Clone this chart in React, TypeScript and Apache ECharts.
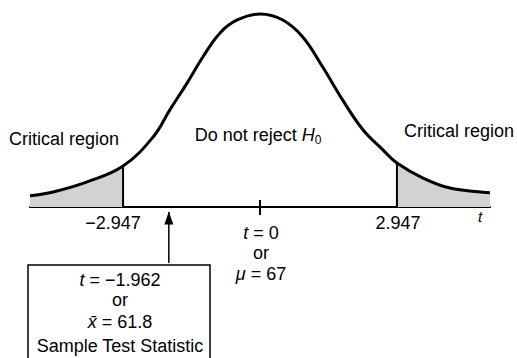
import React, { useEffect, useRef } from 'react';
import * as echarts from 'echarts';

// Curve of the test statistic's distribution (t on x, relative density on y)
const tValues = [-4.95, -4.45, -3.72, -2.947, -2.3, -1.94, -1.57, -1.23, -0.86, -0.49, 0, 0.49, 0.92, 1.35, 1.78, 2.22, 2.65, 2.947, 3.51, 4.09, 4.8, 4.95];
const density = [0.058, 0.078, 0.13, 0.212, 0.363, 0.503, 0.642, 0.777, 0.902, 0.969, 1.0, 0.969, 0.881, 0.725, 0.554, 0.399, 0.295, 0.228, 0.15, 0.098, 0.076, 0.074];

const criticalT = 2.947;
const testT = -1.962;
const testMean = 61.8;
const hypothesisMean = 67;
const criticalLabels = ['\u22122.947', '2.947'];

const FONT = '"Liberation Sans", Arial, Helvetica, sans-serif';
const SHADE = '#d2d2d2';

export default function App() {
  const ref = useRef<HTMLDivElement>(null);

  useEffect(() => {
    if (!ref.current) return;
    const chart = echarts.init(ref.current, undefined, { renderer: 'svg' });
    const curve = tValues.map((t, i) => [t, density[i]]);
    const hLeft = density[tValues.indexOf(-criticalT)];
    const hRight = density[tValues.indexOf(criticalT)];

    const txt = (x: number, y: number, text: string, size = 18, extra: any = {}) => ({
      type: 'text',
      x,
      y,
      silent: true,
      style: {
        text,
        fill: '#000',
        font: `${size}px ${FONT}`,
        textAlign: 'center',
        textVerticalAlign: 'middle',
        rich: {
          i: { fontStyle: 'italic', fontSize: size, fontFamily: FONT },
          s: { fontSize: 12, fontFamily: FONT, padding: [10, 0, 0, 0] },
        },
        ...extra,
      },
    });

    chart.setOption({
      animation: false,
      backgroundColor: '#fff',
      grid: { left: 30, right: 27, top: 4, bottom: 0 },
      xAxis: {
        type: 'value',
        min: -4.95,
        max: 4.95,
        axisLine: { show: true, onZero: true, lineStyle: { color: '#000', width: 2 } },
        axisTick: { show: false },
        axisLabel: { show: false },
        splitLine: { show: false },
      },
      yAxis: {
        type: 'value',
        min: -0.7824,
        max: 1.0518,
        axisLine: { show: false },
        axisTick: { show: false },
        axisLabel: { show: false },
        splitLine: { show: false },
      },
      visualMap: {
        show: false,
        type: 'piecewise',
        seriesIndex: 0,
        dimension: 0,
        pieces: [
          { lt: -criticalT, color: SHADE },
          { gte: -criticalT, lte: criticalT, color: 'rgba(255,255,255,0)' },
          { gt: criticalT, color: SHADE },
        ],
      },
      series: [
        {
          type: 'line',
          data: curve,
          smooth: 0.4,
          showSymbol: false,
          silent: true,
          lineStyle: { width: 0 },
          areaStyle: { opacity: 1 },
          z: 1,
        },
        {
          type: 'line',
          data: curve,
          smooth: 0.4,
          showSymbol: false,
          silent: true,
          lineStyle: { color: '#000', width: 3 },
          z: 3,
        },
        {
          type: 'line',
          data: [[-criticalT, 0], [-criticalT, hLeft]],
          showSymbol: false,
          silent: true,
          lineStyle: { color: '#000', width: 2 },
          z: 2,
        },
        {
          type: 'line',
          data: [[criticalT, 0], [criticalT, hRight]],
          showSymbol: false,
          silent: true,
          lineStyle: { color: '#000', width: 2 },
          z: 2,
        },
        {
          type: 'line',
          data: [[0, -0.041], [0, 0.036]],
          showSymbol: false,
          silent: true,
          lineStyle: { color: '#000', width: 2 },
          z: 2,
        },
        {
          type: 'line',
          data: [
            { value: [testT, -0.29], symbol: 'none' },
            { value: [testT, -0.026], symbol: 'triangle', symbolSize: [9, 13], symbolOffset: [0, 6] },
          ],
          showAllSymbol: true,
          silent: true,
          itemStyle: { color: '#000' },
          lineStyle: { color: '#000', width: 1.5 },
          z: 2,
        },
      ],
      graphic: [
        txt(64, 139, 'Critical region'),
        txt(459, 131, 'Critical region'),
        txt(258, 135, 'Do not reject {i|H}{s|0}'),
        txt(113, 223, criticalLabels[0]),
        txt(398, 223, criticalLabels[1]),
        txt(480, 216, '{i|t}', 15),
        txt(261, 233, '{i|t} = 0'),
        txt(261, 253, 'or'),
        txt(261, 274, `{i|\u03bc} = ${hypothesisMean}`),
        {
          type: 'rect',
          silent: true,
          shape: { x: 28, y: 265, width: 182, height: 110 },
          style: { fill: 'none', stroke: '#000', lineWidth: 1.5 },
        },
        txt(120, 280, `{i|t} = \u2212${Math.abs(testT)}`),
        txt(120, 300, 'or'),
        txt(120, 322, `{i|x\u0304} = ${testMean}`),
        txt(120, 346, 'Sample Test Statistic'),
      ],
    });
    return () => chart.dispose();
  }, []);

  return (
    <div
      ref={ref}
      style={{ position: 'absolute', left: 0, top: 0, width: 517, height: 358, background: '#fff' }}
    />
  );
}
